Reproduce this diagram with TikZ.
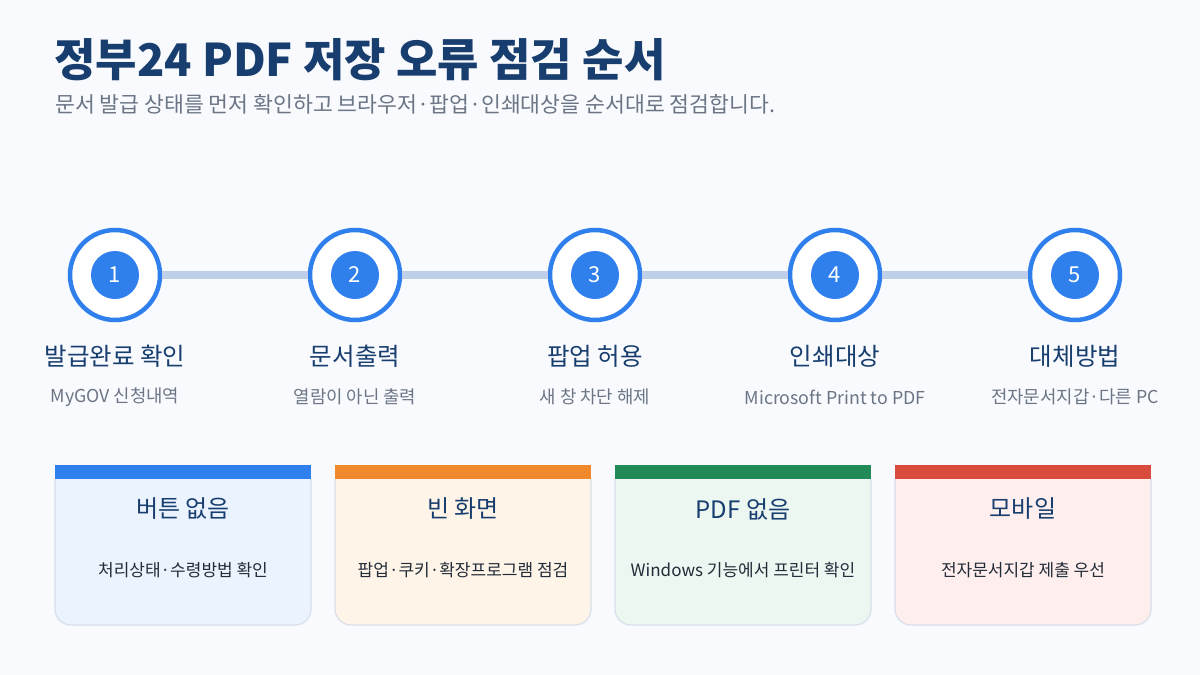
\documentclass[tikz,border=0pt]{standalone}
\usepackage{fontspec}
\setmainfont{Noto Sans CJK KR}
\definecolor{bg}{HTML}{F8FAFD}
\definecolor{navy}{HTML}{173E6E}
\definecolor{graytx}{HTML}{6B7585}
\definecolor{bodytx}{HTML}{222B38}
\definecolor{mainblue}{HTML}{2F80ED}
\definecolor{linkc}{HTML}{BDD0E7}
\definecolor{cardedge}{HTML}{D6DFEA}
\definecolor{barB}{HTML}{2F80ED}
\definecolor{barO}{HTML}{F0892B}
\definecolor{barG}{HTML}{218A57}
\definecolor{barR}{HTML}{D94B3D}
\definecolor{fillB}{HTML}{EBF4FE}
\definecolor{fillO}{HTML}{FEF4E8}
\definecolor{fillG}{HTML}{EDF7F1}
\definecolor{fillR}{HTML}{FEEFEE}
\tikzset{
  ring/.style={circle, draw=mainblue, line width=4.5pt, fill=white, minimum size=90pt, inner sep=0pt},
  numdot/.style={circle, fill=mainblue, minimum size=48pt, inner sep=0pt, text=white, font=\fontsize{22}{26}\selectfont},
  conn/.style={draw=linkc, line width=8pt},
  steptitle/.style={text=navy, font=\fontsize{24.5}{28}\selectfont, inner sep=0pt},
  stepsub/.style={text=graytx, font=\fontsize{17.8}{21}\selectfont, inner sep=0pt},
  cardtitle/.style={text=navy, font=\fontsize{24}{28}\selectfont, inner sep=0pt},
  cardbody/.style={text=bodytx, font=\fontsize{17}{20}\selectfont, inner sep=0pt},
}
\newcommand{\cardbox}[3]{% x-left, barcolor, fillcolor
  \path[fill=#3, draw=cardedge, line width=1.2pt]
    (#1,479) [rounded corners=16pt]-- (#1,625) -- (#1+256,625) [sharp corners]-- (#1+256,479);
  \fill[#2] (#1,465) rectangle (#1+256,479);
}
\begin{document}
\begin{tikzpicture}[x=1pt,y=-1pt]
\useasboundingbox (0,0) rectangle (1200,675);
\fill[bg] (0,0) rectangle (1200,675);

\node[anchor=west, inner sep=0pt, text=navy, font=\fontsize{45}{50}\bfseries\selectfont] (title) at (54,60) {정부24 PDF 저장 오류 점검 순서};
\node[anchor=west, inner sep=0pt, text=graytx, font=\fontsize{21.6}{25}\selectfont] (subtitle) at (55,104) {문서 발급 상태를 먼저 확인하고 브라우저·팝업·인쇄대상을 순서대로 점검합니다.};

% rings
\foreach \i/\x in {1/115,2/355,3/595,4/835,5/1075}{
  \node[ring] (c\i) at (\x,275) {};
}
\draw[conn] (c1) -- (c2);
\draw[conn] (c2) -- (c3);
\draw[conn] (c3) -- (c4);
\draw[conn] (c4) -- (c5);
\foreach \i/\x in {1/115,2/355,3/595,4/835,5/1075}{
  \node[numdot] (n\i) at (\x,275) {\i};
}

% step labels
\node[steptitle] (t1) at (115,356) {발급완료 확인};
\node[steptitle] (t2) at (355,356) {문서출력};
\node[steptitle] (t3) at (595,356) {팝업 허용};
\node[steptitle] (t4) at (835,356) {인쇄대상};
\node[steptitle] (t5) at (1075,356) {대체방법};
\node[stepsub] (s1) at (115,397) {MyGOV 신청내역};
\node[stepsub] (s2) at (355,397) {열람이 아닌 출력};
\node[stepsub] (s3) at (595,397) {새 창 차단 해제};
\node[stepsub] (s4) at (835,397) {Microsoft Print to PDF};
\node[stepsub] (s5) at (1075,397) {전자문서지갑·다른 PC};

% cards
\cardbox{55}{barB}{fillB}
\cardbox{335}{barO}{fillO}
\cardbox{615}{barG}{fillG}
\cardbox{895}{barR}{fillR}
\node[cardtitle] (k1) at (183,509) {버튼 없음};
\node[cardtitle] (k2) at (463,509) {빈 화면};
\node[cardtitle] (k3) at (743,509) {PDF 없음};
\node[cardtitle] (k4) at (1023,509) {모바일};
\node[cardbody] (b1) at (183,570) {처리상태·수령방법 확인};
\node[cardbody] (b2) at (463,570) {팝업·쿠키·확장프로그램 점검};
\node[cardbody] (b3) at (743,570) {Windows 기능에서 프린터 확인};
\node[cardbody] (b4) at (1023,570) {전자문서지갑 제출 우선};
\end{tikzpicture}
\end{document}
